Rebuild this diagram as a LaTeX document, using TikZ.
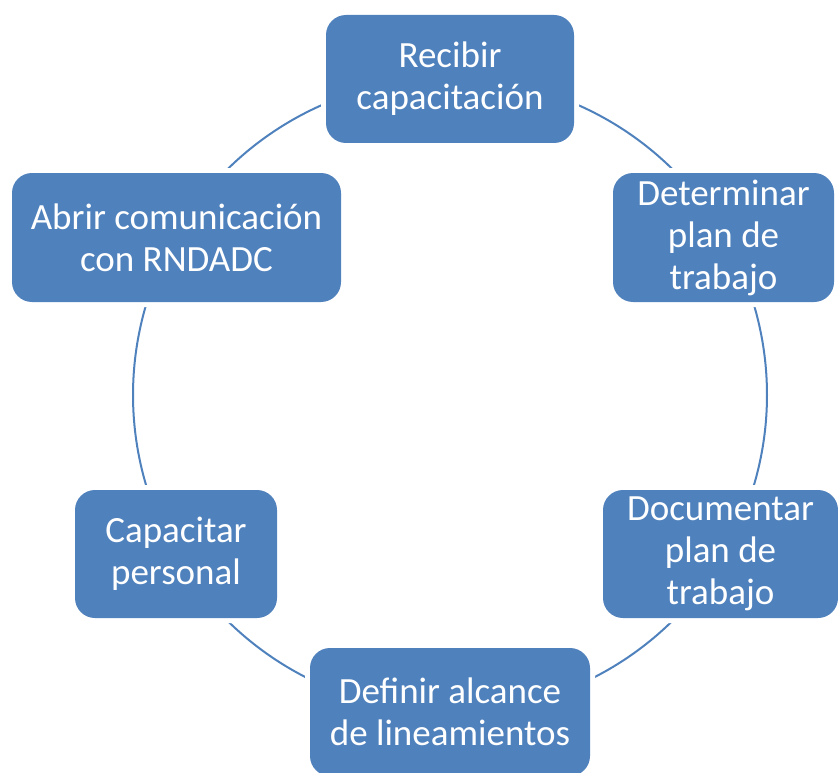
\documentclass[tikz,border=0pt]{standalone}
\usepackage{fontspec}
\setmainfont{Carlito}
\definecolor{boxblue}{HTML}{4F81BD}
\begin{document}
\begin{tikzpicture}[x=1pt,y=-1pt,
  cyclebox/.style={fill=boxblue, rounded corners=20pt, inner sep=0pt,
    preaction={draw=white, line width=10pt},
    text=white, align=center, font=\fontsize{37}{42}\selectfont},
  cyclearc/.style={draw=boxblue, line width=2pt}]
\useasboundingbox (0,0) rectangle (838,773);
\coordinate (C) at (450,395);
\foreach \a/\n in {-90/p1,-30/p2,30/p3,90/p4,150/p5,210/p6}
  \path (C) ++(\a:317) coordinate (\n);
% arcs between consecutive steps
\draw[cyclearc] (p1) arc[start angle=-90, end angle=-30, radius=317];
\draw[cyclearc] (p2) arc[start angle=-30, end angle=30, radius=317];
\draw[cyclearc] (p3) arc[start angle=30, end angle=90, radius=317];
\draw[cyclearc] (p4) arc[start angle=90, end angle=150, radius=317];
\draw[cyclearc] (p5) arc[start angle=150, end angle=210, radius=317];
\draw[cyclearc] (p6) arc[start angle=210, end angle=270, radius=317];
% boxes
\node[cyclebox, minimum width=248pt, minimum height=128pt] (n1) at (450,79)
  {Recibir\\capacitación};
\node[cyclebox, minimum width=221pt, minimum height=129pt] (n2) at (723.5,237.5)
  {Determinar\\plan de\\trabajo};
\node[cyclebox, minimum width=235pt, minimum height=128pt] (n3) at (720.5,554)
  {Documentar\\plan de\\trabajo};
\node[cyclebox, minimum width=280pt, minimum height=128pt] (n4) at (450,712)
  {Definir alcance\\de lineamientos};
\node[cyclebox, minimum width=202pt, minimum height=128pt] (n5) at (176,554)
  {Capacitar\\personal};
\node[cyclebox, minimum width=329pt, minimum height=129pt] (n6) at (176.5,237.5)
  {Abrir comunicación\\con RNDADC};
\end{tikzpicture}
\end{document}
